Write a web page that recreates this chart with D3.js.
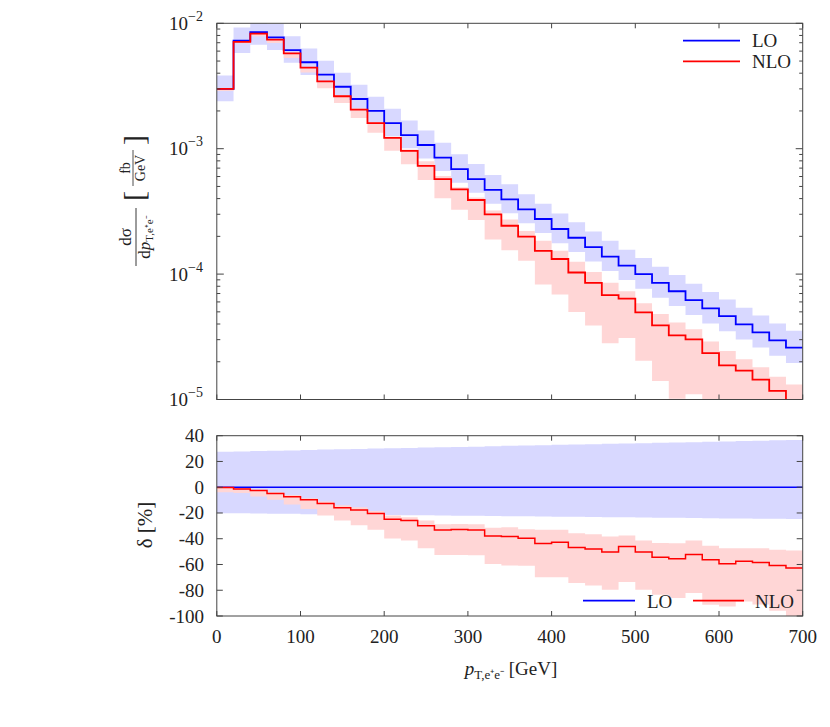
<!DOCTYPE html>
<html>
<head>
<meta charset="utf-8">
<script src="https://cdn.jsdelivr.net/npm/d3@7"></script>
<style>
  body { margin: 0; background: #fff; }
</style>
</head>
<body>
<svg id="chart" width="830" height="727" font-family="'Liberation Serif', 'Times New Roman', Times, serif"></svg>
<script>
// ---- data (bins of 20 GeV from 0 to 700) ----
const binEdges = d3.range(0, 701, 20);
const loValues = [3.0e-3, 7.26e-3, 8.5e-3, 7.73e-3, 6.12e-3, 4.89e-3, 3.89e-3, 3.12e-3, 2.49e-3, 2.0e-3,
  1.6e-3, 1.285e-3, 1.07e-3, 8.5e-4, 6.88e-4, 5.73e-4, 4.69e-4, 3.95e-4, 3.28e-4, 2.75e-4,
  2.29e-4, 1.95e-4, 1.64e-4, 1.38e-4, 1.17e-4, 1.0e-4, 8.5e-5, 7.3e-5, 6.2e-5, 5.33e-5,
  4.63e-5, 3.97e-5, 3.43e-5, 2.96e-5, 2.59e-5];
const nloValues = [3.0e-3, 7.1e-3, 8.26e-3, 7.4e-3, 5.76e-3, 4.43e-3, 3.44e-3, 2.62e-3, 2.05e-3, 1.6e-3,
  1.22e-3, 9.6e-4, 7.3e-4, 5.72e-4, 4.73e-4, 3.9e-4, 2.99e-4, 2.43e-4, 1.99e-4, 1.53e-4,
  1.32e-4, 1.03e-4, 8.5e-5, 6.8e-5, 6.37e-5, 4.95e-5, 3.9e-5, 3.25e-5, 3.02e-5, 2.34e-5,
  1.87e-5, 1.7e-5, 1.44e-5, 1.17e-5, 9.6e-6];
// relative deviations from LO, in %
const loBandUp = [27.6, 27.8, 28.1, 28.4, 28.6, 28.9, 29.2, 29.4, 29.7, 30.0,
  30.2, 30.5, 30.8, 31.0, 31.3, 31.5, 31.8, 32.1, 32.3, 32.6, 32.9, 33.1, 33.4, 33.7,
  33.9, 34.2, 34.5, 34.7, 35.0, 35.3, 35.5, 35.8, 36.1, 36.4, 36.7];
const loBandDown = [-20.2, -20.3, -20.5, -20.6, -20.7, -20.9, -21.0, -21.1, -21.3, -21.4,
  -21.6, -21.7, -21.8, -22.0, -22.1, -22.2, -22.4, -22.5, -22.6, -22.8, -22.9, -23.0,
  -23.2, -23.3, -23.4, -23.6, -23.7, -23.8, -24.0, -24.1, -24.2, -24.3, -24.4, -24.5, -24.6];
const nloDelta = [-0.3, -1.3, -2.6, -4.9, -7.5, -9.8, -12.7, -16, -17.6, -20.4,
  -24.8, -25.9, -30, -33.3, -32.9, -33.3, -37.8, -38.3, -39.6, -43.7,
  -42.7, -46.8, -48, -50.4, -46, -50.4, -54.3, -55.6, -52.2, -56.4,
  -59.5, -57.4, -58.4, -60.8, -62.8];
const nloBandUp = [0.5, -0.5, -2, -4, -6, -8.5, -11, -14, -15.5, -18.5,
  -22, -23.3, -25.9, -28.7, -28.5, -28.7, -31.5, -31, -32.6, -33,
  -33, -35.7, -36.5, -38.3, -37.5, -41.4, -43.4, -43.6, -41.4, -45.5,
  -47.3, -47.3, -47.3, -48.6, -49.1];
const nloBandDown = [-4, -4.5, -7.3, -9.8, -13.5, -17, -22, -25.9, -29.5, -33.1,
  -39.8, -41.4, -47.3, -52.7, -52.7, -52.9, -59.7, -60.8, -61, -70,
  -70, -74.4, -76.3, -79.6, -73.6, -79.6, -83.5, -86.1, -82.2, -91.2,
  -92.7, -88.7, -91, -95.9, -102];
const xTicks = [0, 100, 200, 300, 400, 500, 600, 700];
const topTicks = [1e-2, 1e-3, 1e-4, 1e-5];
const topTickExp = ["\u22122", "\u22123", "\u22124", "\u22125"];
const botTicks = [40, 20, 0, -20, -40, -60, -80, -100];
const legendLabels = ["LO", "NLO"];

// ---- layout ----
const svg = d3.select("#chart");
const X0 = 216.8, X1 = 802.7;
const T0 = 23.3, T1 = 399.5;
const B0 = 435.7, B1 = 616;
const blue = "#0000ff", red = "#ff0000";
const blueBand = "#d8d8ff", redBand = "#ffd6d6";
const frameCol = "#444";
const txtCol = "#222";

const x = d3.scaleLinear().domain([0, 700]).range([X0, X1]);
const yT = d3.scaleLog().domain([1e-5, 1e-2]).range([T1, T0]);
const yB = d3.scaleLinear().domain([-100, 40]).range([B1, B0]);

const defs = svg.append("defs");
defs.append("clipPath").attr("id", "clipT").append("rect")
  .attr("x", X0).attr("y", T0).attr("width", X1 - X0).attr("height", T1 - T0);
defs.append("clipPath").attr("id", "clipB").append("rect")
  .attr("x", X0).attr("y", B0).attr("width", X1 - X0).attr("height", B1 - B0);

function stepPts(vals) {
  const pts = [];
  vals.forEach((v, i) => { pts.push([binEdges[i], v]); pts.push([binEdges[i + 1], v]); });
  return pts;
}
function bandPts(lo, hi) {
  const pts = [];
  lo.forEach((v, i) => {
    pts.push({ x: binEdges[i], lo: v, hi: hi[i] });
    pts.push({ x: binEdges[i + 1], lo: v, hi: hi[i] });
  });
  return pts;
}

// ---- top panel ----
const gT = svg.append("g").attr("clip-path", "url(#clipT)");
const clampT = v => Math.max(v, 1e-7);
const areaT = d3.area().x(d => x(d.x)).y0(d => yT(clampT(d.lo))).y1(d => yT(clampT(d.hi)));
const lineT = d3.line().x(d => x(d[0])).y(d => yT(clampT(d[1])));

const loBandTopLo = loValues.map((v, i) => v * (1 + loBandDown[i] / 100));
const loBandTopHi = loValues.map((v, i) => v * (1 + loBandUp[i] / 100));
const nloBandTopLo = loValues.map((v, i) => v * (1 + nloBandDown[i] / 100));
const nloBandTopHi = loValues.map((v, i) => v * (1 + nloBandUp[i] / 100));

gT.append("path").attr("d", areaT(bandPts(loBandTopLo, loBandTopHi))).attr("fill", blueBand);
gT.append("path").attr("d", areaT(bandPts(nloBandTopLo, nloBandTopHi))).attr("fill", redBand);
gT.append("path").attr("d", lineT(stepPts(loValues))).attr("fill", "none").attr("stroke", blue).attr("stroke-width", 1.8);
gT.append("path").attr("d", lineT(stepPts(nloValues))).attr("fill", "none").attr("stroke", red).attr("stroke-width", 1.8);

// ---- bottom panel ----
const gB = svg.append("g").attr("clip-path", "url(#clipB)");
const areaB = d3.area().x(d => x(d.x)).y0(d => yB(d.lo)).y1(d => yB(d.hi));
const lineB = d3.line().x(d => x(d[0])).y(d => yB(d[1]));
gB.append("path").attr("d", areaB(bandPts(loBandDown, loBandUp))).attr("fill", blueBand);
gB.append("path").attr("d", areaB(bandPts(nloBandDown, nloBandUp))).attr("fill", redBand);
gB.append("path").attr("d", lineB(stepPts(loValues.map(() => 0)))).attr("fill", "none").attr("stroke", blue).attr("stroke-width", 1.5);
gB.append("path").attr("d", lineB(stepPts(nloDelta))).attr("fill", "none").attr("stroke", red).attr("stroke-width", 1.5);

// ---- frames and ticks ----
function frame(ya, yb) {
  svg.append("rect").attr("x", X0).attr("y", ya).attr("width", X1 - X0).attr("height", yb - ya)
    .attr("fill", "none").attr("stroke", frameCol).attr("stroke-width", 1);
}
function tick(x1, y1, x2, y2) {
  svg.append("line").attr("x1", x1).attr("y1", y1).attr("x2", x2).attr("y2", y2)
    .attr("stroke", frameCol).attr("stroke-width", 1);
}
frame(T0, T1);
frame(B0, B1);

xTicks.forEach(t => {
  const px = x(t);
  tick(px, T0, px, T0 + 5); tick(px, T1, px, T1 - 5);
  tick(px, B0, px, B0 + 5); tick(px, B1, px, B1 - 5);
});
const minorTicks = [];
[1e-5, 1e-4, 1e-3].forEach(dec => { for (let k = 2; k <= 9; k++) minorTicks.push(dec * k); });
topTicks.forEach(t => { const py = yT(t); tick(X0, py, X0 + 7, py); tick(X1, py, X1 - 7, py); });
minorTicks.forEach(t => { const py = yT(t); tick(X0, py, X0 + 3.5, py); tick(X1, py, X1 - 3.5, py); });
botTicks.forEach(t => { const py = yB(t); tick(X0, py, X0 + 6, py); tick(X1, py, X1 - 6, py); });

// tick labels
const FS = 19;
function txt(xp, yp, s, opts = {}) {
  return svg.append("text").attr("x", xp).attr("y", yp).attr("fill", txtCol)
    .attr("font-size", opts.fs || FS).attr("text-anchor", opts.anchor || "start").text(s);
}
xTicks.forEach(t => txt(x(t), 643, t, { anchor: "middle" }));
topTicks.forEach((t, i) => {
  const tx = svg.append("text").attr("x", 203).attr("y", yT(t) + 6.5).attr("text-anchor", "end")
    .attr("font-size", FS).attr("fill", txtCol);
  tx.append("tspan").text("10");
  tx.append("tspan").attr("dy", -9).attr("font-size", 14).text(topTickExp[i]);
});
botTicks.forEach(t => txt(204, yB(t) + 6.5, t, { anchor: "end" }));

// ---- axis labels ----
const xl = svg.append("text").attr("x", 511).attr("y", 675).attr("text-anchor", "middle")
  .attr("font-size", FS).attr("fill", txtCol);
xl.append("tspan").attr("font-style", "italic").text("p");
xl.append("tspan").attr("font-size", 13).attr("dy", 4).text("T,e\u207Ae\u207B");
xl.append("tspan").attr("dy", -4).text(" [GeV]");

svg.append("text").attr("transform", "translate(152,525) rotate(-90)").attr("fill", txtCol)
  .attr("text-anchor", "middle").attr("font-size", 21).text("\u03B4 [%]");

const yl = svg.append("g").attr("transform", "translate(136,200) rotate(-90)").attr("fill", txtCol);
yl.append("line").attr("x1", -66).attr("x2", -8).attr("y1", 0).attr("y2", 0).attr("stroke", txtCol).attr("stroke-width", 0.9);
yl.append("text").attr("x", -37).attr("y", -5).attr("text-anchor", "middle").attr("font-size", 17).text("d\u03C3");
const den = yl.append("text").attr("x", -37).attr("y", 14).attr("text-anchor", "middle").attr("font-size", 17);
den.append("tspan").text("d");
den.append("tspan").attr("font-style", "italic").text("p");
den.append("tspan").attr("font-size", 11).attr("dy", 3).text("T,e\u207Ae\u207B");
yl.append("text").attr("x", 4).attr("y", 8).attr("text-anchor", "middle").attr("font-size", 30).text("[");
yl.append("text").attr("x", 60).attr("y", 8).attr("text-anchor", "middle").attr("font-size", 30).text("]");
yl.append("line").attr("x1", 14).attr("x2", 50).attr("y1", -3).attr("y2", -3).attr("stroke", txtCol).attr("stroke-width", 0.8);
yl.append("text").attr("x", 32).attr("y", -6).attr("text-anchor", "middle").attr("font-size", 14).text("fb");
yl.append("text").attr("x", 32).attr("y", 9).attr("text-anchor", "middle").attr("font-size", 14).text("GeV");

// ---- legends ----
const legendColors = [blue, red];
legendLabels.forEach((lab, i) => {
  const ly = [40.7, 61.3][i];
  svg.append("line").attr("x1", 683).attr("x2", 740).attr("y1", ly).attr("y2", ly)
    .attr("stroke", legendColors[i]).attr("stroke-width", 1.8);
  txt(752, ly + 6.5, lab);
});
const botLeg = [{ x1: 583, x2: 635, tx: 647 }, { x1: 693, x2: 744, tx: 755 }];
legendLabels.forEach((lab, i) => {
  const b = botLeg[i];
  svg.append("line").attr("x1", b.x1).attr("x2", b.x2).attr("y1", 600.7).attr("y2", 600.7)
    .attr("stroke", legendColors[i]).attr("stroke-width", 1.8);
  txt(b.tx, 607.5, lab);
});
</script>
</body>
</html>
